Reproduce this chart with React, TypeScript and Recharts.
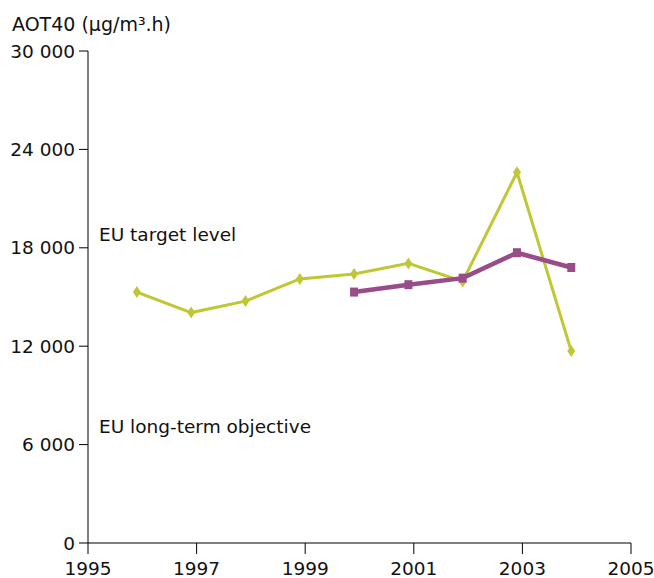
import React from 'react';
import { LineChart, Line, XAxis, YAxis, ReferenceLine } from 'recharts';

const greenYears = [1995.9, 1996.9, 1997.9, 1998.9, 1999.9, 2000.9, 2001.9, 2002.9, 2003.9];
const greenValues = [15300, 14050, 14750, 16100, 16400, 17050, 15950, 22600, 11700];
const purpleYears = [1999.9, 2000.9, 2001.9, 2002.9, 2003.9];
const purpleValues = [15300, 15750, 16150, 17700, 16800];
const xTicks = [1995, 1997, 1999, 2001, 2003, 2005];
const yTicks = [0, 6000, 12000, 18000, 24000, 30000];
const yTitle = 'AOT40 (µg/m³.h)';
const targetLevel = 18000;
const longTermObjective = 6000;

const greenData = greenYears.map((x, i) => ({ x, v: greenValues[i] }));
const purpleData = purpleYears.map((x, i) => ({ x, v: purpleValues[i] }));

const GREEN = '#bfc834';
const PURPLE = '#984c88';
const FONT = 'DejaVu Sans, Verdana, sans-serif';
const FS = 18.5;

const fmt = (v: number) => String(v).replace(/\B(?=(\d{3})+(?!\d))/g, ' ');

const Diamond = (props: any) => {
  const { cx, cy } = props;
  if (cx == null || cy == null) return null;
  return <polygon points={`${cx},${cy - 6} ${cx + 4},${cy} ${cx},${cy + 6} ${cx - 4},${cy}`} fill={GREEN} />;
};

const Square = (props: any) => {
  const { cx, cy } = props;
  if (cx == null || cy == null) return null;
  return <rect x={cx - 4} y={cy - 4.5} width={8} height={9} fill={PURPLE} />;
};

const refLabel = (text: string, dy: number) => (props: any) => {
  const { viewBox } = props;
  return (
    <text x={viewBox.x + 11} y={viewBox.y + dy} fontFamily={FONT} fontSize={FS} fill="#111">
      {text}
    </text>
  );
};

export default function App() {
  return (
    <div style={{ position: 'absolute', left: 0, top: 0, background: '#fff' }}>
      <LineChart width={654} height={578} margin={{ top: 51, right: 23, bottom: 0, left: 8 }}>
        <XAxis
          dataKey="x"
          type="number"
          domain={[1995, 2005]}
          ticks={xTicks}
          allowDuplicatedCategory={false}
          height={35}
          stroke="#000"
          tickSize={11}
          tickMargin={8}
          tick={{ fill: '#111', fontFamily: FONT, fontSize: FS }}
          tickLine={{ stroke: '#000' }}
          interval={0}
        />
        <YAxis
          type="number"
          domain={[0, 30000]}
          ticks={yTicks}
          width={80}
          stroke="#000"
          tickSize={9}
          tickMargin={4}
          tickFormatter={fmt}
          tick={{ fill: '#111', fontFamily: FONT, fontSize: FS }}
          tickLine={{ stroke: '#000' }}
          interval={0}
          label={(p: any) => (
            <text x={12} y={31} fontFamily={FONT} fontSize={19} fill="#111">
              {yTitle}
            </text>
          )}
        />
        <ReferenceLine y={targetLevel} stroke="none" label={refLabel('EU target level', -7)} />
        <ReferenceLine y={longTermObjective} stroke="none" label={refLabel('EU long-term objective', -12)} />
        <Line
          data={greenData}
          dataKey="v"
          stroke={GREEN}
          strokeWidth={3}
          dot={<Diamond />}
          activeDot={false}
          isAnimationActive={false}
        />
        <Line
          data={purpleData}
          dataKey="v"
          stroke={PURPLE}
          strokeWidth={4.5}
          dot={<Square />}
          activeDot={false}
          isAnimationActive={false}
        />
      </LineChart>
    </div>
  );
}
